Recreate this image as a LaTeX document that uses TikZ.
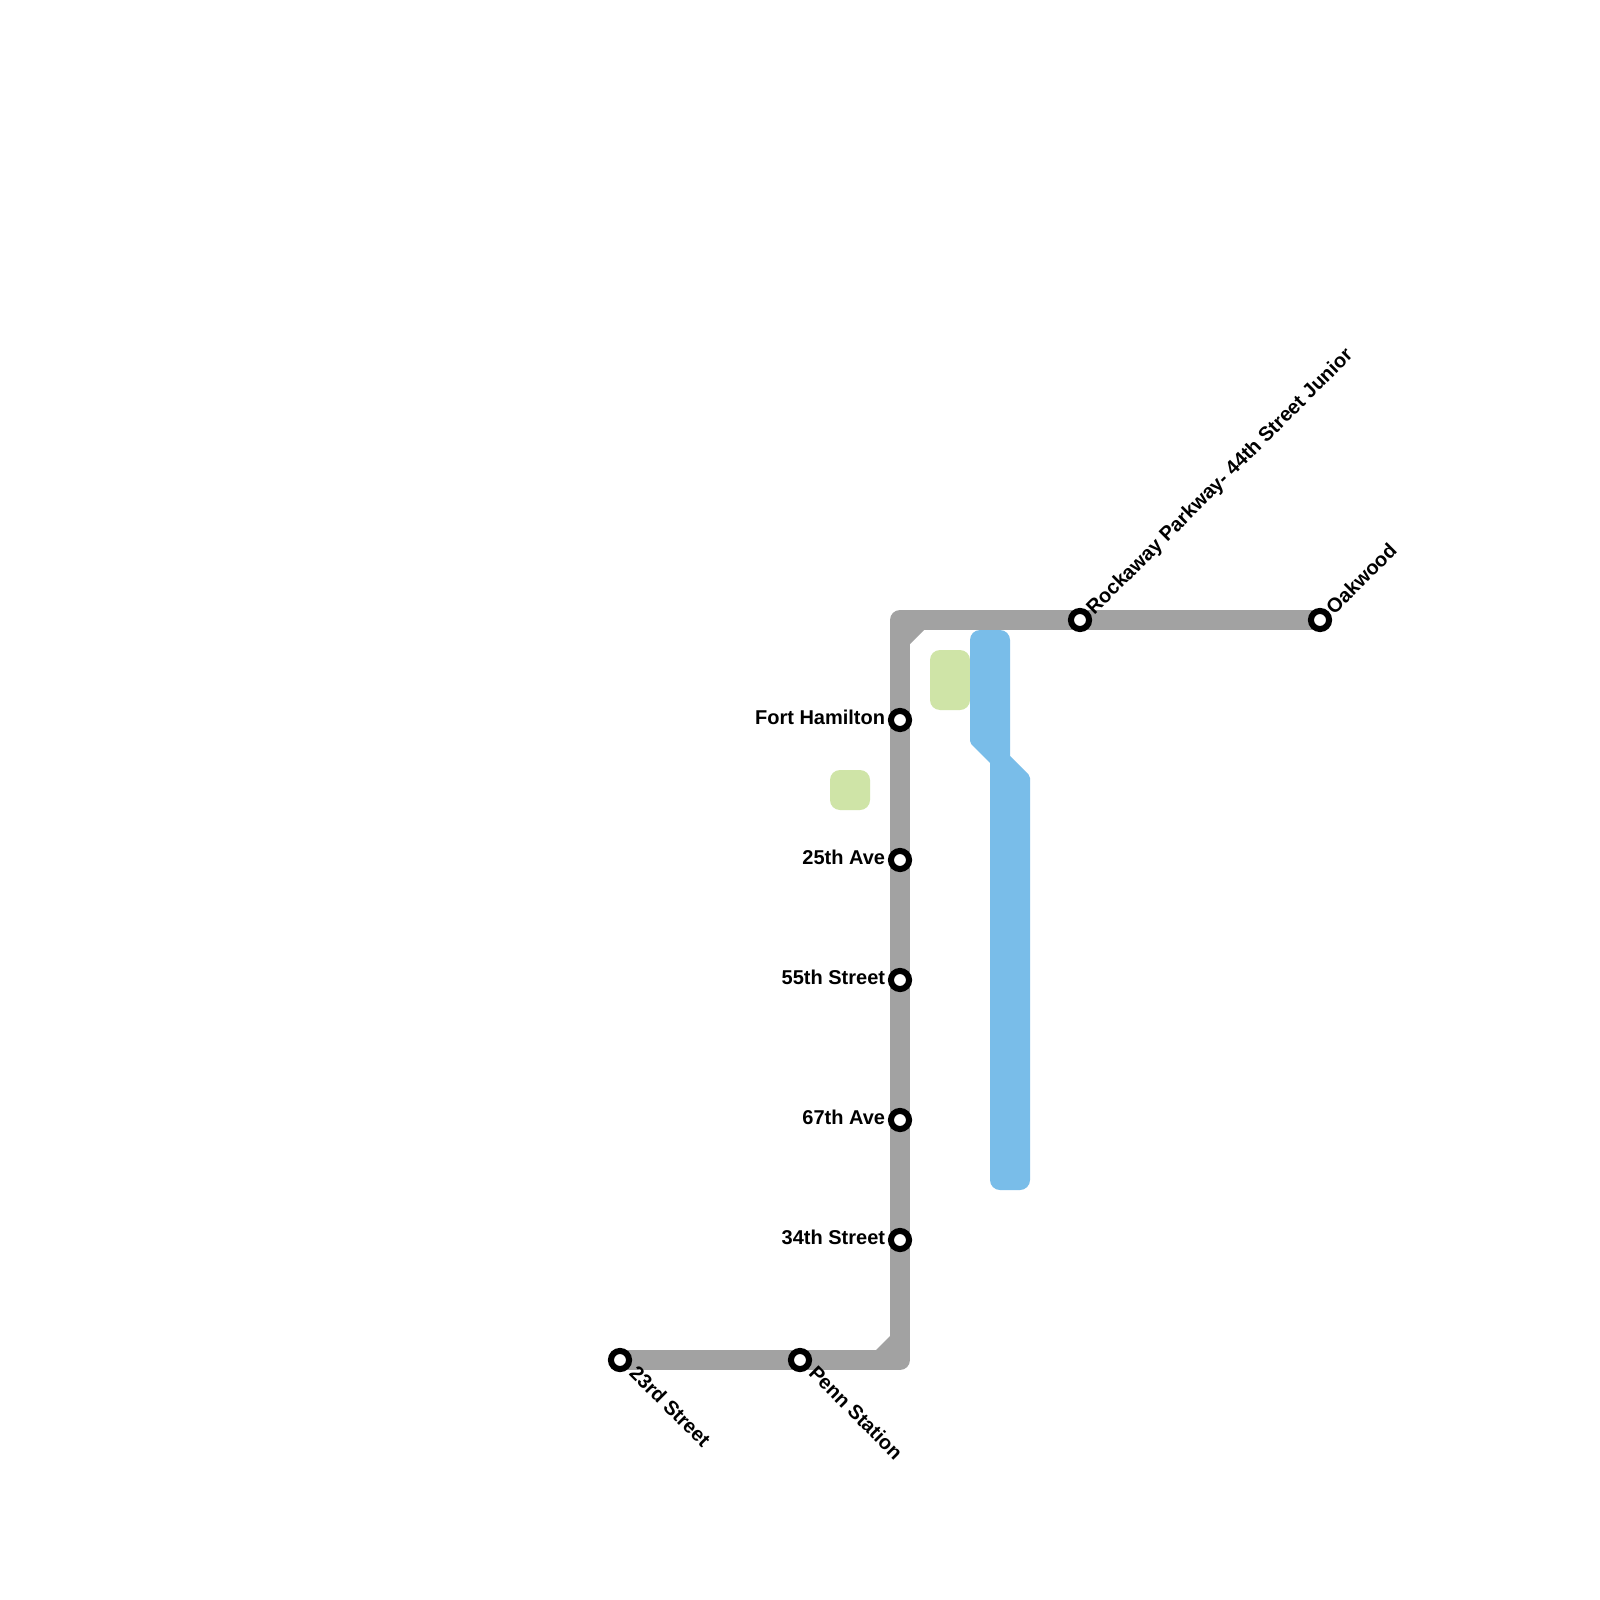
\documentclass[tikz,border=0pt]{standalone}
\usepackage{fontspec}
\setmainfont{Liberation Sans}
\usetikzlibrary{backgrounds}
\definecolor{grayline}{HTML}{A2A2A2}
\definecolor{blueline}{HTML}{79BDE9}
\definecolor{greenpark}{HTML}{CFE4A7}
\tikzset{
  x=0.48pt,y=-0.48pt,
  route/.style={draw=grayline,line width=9.6pt,line join=round,line cap=butt},
  stn/.style={circle,draw=black,fill=white,line width=2.9pt,minimum size=8.7pt,inner sep=0pt},
  lab/.style={font=\bfseries\fontsize{9.6}{9.6}\selectfont,text=black,inner sep=0pt},
  labl/.style={lab,anchor=base east},
  labup/.style={lab,anchor=base west,rotate=45},
  labdn/.style={lab,anchor=base west,rotate=-45},
  park/.style={fill=greenpark,rounded corners=4.8pt},
  water/.style={fill=blueline},
}
\begin{document}
\begin{tikzpicture}
\useasboundingbox (0,0) rectangle (1600,1600);
\fill[park] (930,650) rectangle (970,710);
\fill[park] (830,770) rectangle (870,810);
\fill[water,rounded corners=4.8pt] (990,630) -- (1010,630)
  [rounded corners=0pt] -- (1010,756)
  [rounded corners=1pt] -- (1030,776)
  [rounded corners=4.8pt] -- (1030,1190) -- (990,1190)
  [rounded corners=0pt] -- (990,763)
  [rounded corners=1pt] -- (970,743)
  [rounded corners=4.8pt] -- (970,630) -- cycle;
\coordinate (cBot) at (900,1360);
\coordinate (cTop) at (900,620);
\node[stn] (s23) at (620,1360) {};
\node[stn] (penn) at (800,1360) {};
\node[stn] (s34) at (900,1240) {};
\node[stn] (s67) at (900,1120) {};
\node[stn] (s55) at (900,980) {};
\node[stn] (s25) at (900,860) {};
\node[stn] (fort) at (900,720) {};
\node[stn] (rock) at (1080,620) {};
\node[stn] (oak) at (1320,620) {};
\begin{scope}[on background layer]
\fill[white] (0,0) rectangle (1600,1600);
\draw[route] (s23.center) -- (penn.center) -- (cBot) -- (s34.center) -- (s67.center) -- (s55.center) -- (s25.center) -- (fort.center) -- (cTop) -- (rock.center) -- (oak.center);
\fill[grayline] (910,630) -- (924,630) -- (910,644) -- cycle;
\fill[grayline] (890,1350) -- (876,1350) -- (890,1336) -- cycle;
\end{scope}
\node[labl] (lfort) at (885.5,724.5) {Fort Hamilton};
\node[labl] (l25) at (885.5,864.5) {25th Ave};
\node[labl] (l55) at (885.5,984.5) {55th Street};
\node[labl] (l67) at (885.5,1124.5) {67th Ave};
\node[labl] (l34) at (885.5,1244.5) {34th Street};
\node[labup] (lrock) at (1094,616) {Rockaway Parkway- 44th Street Junior};
\node[labup] (loak) at (1334,616) {Oakwood};
\node[labdn] (l23) at (628,1374) {23rd Street};
\node[labdn] (lpenn) at (807.5,1374) {Penn Station};
\end{tikzpicture}
\end{document}
